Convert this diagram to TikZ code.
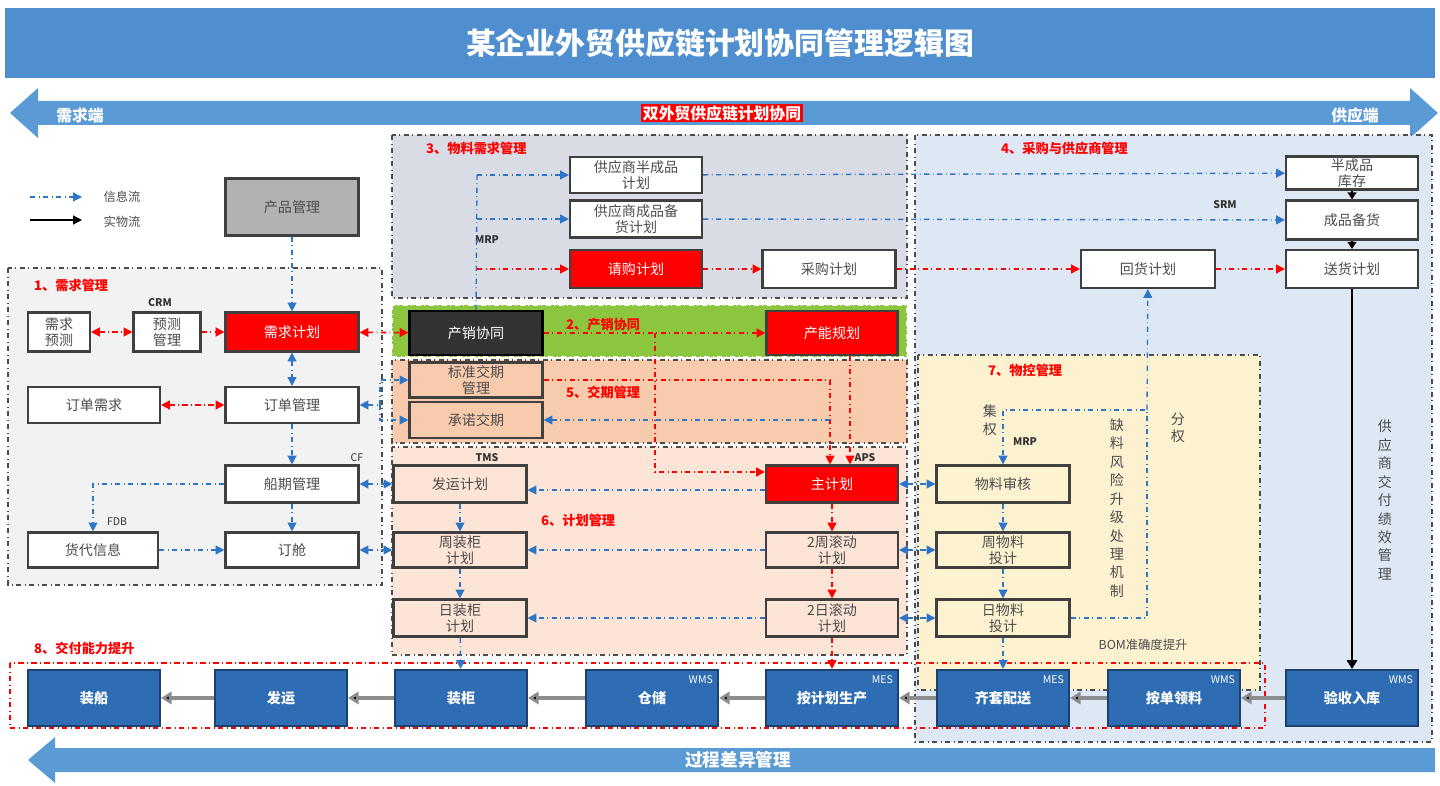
\documentclass[tikz,border=0pt]{standalone}
\usepackage{fontspec}
\setmainfont{Noto Sans CJK SC}
\usetikzlibrary{arrows.meta,calc}
\definecolor{hdr}{HTML}{4F8FCF}
\definecolor{flow}{HTML}{5B9BD5}
\definecolor{infob}{HTML}{2E75C8}
\definecolor{boxb}{HTML}{2E6DB4}
\definecolor{rgA}{HTML}{F2F2F2}
\definecolor{rgB}{HTML}{D9DCE4}
\definecolor{rgC}{HTML}{8CC63F}
\definecolor{rgD}{HTML}{F8CBAD}
\definecolor{rgE}{HTML}{FCE4D6}
\definecolor{rgF}{HTML}{DDE8F4}
\definecolor{rgG}{HTML}{FDF2D0}
\tikzset{
  box/.style={draw=black!75,line width=1.2pt,fill=white,text=black!70,font=\fontsize{8}{9}\selectfont,align=center,inner sep=0pt},
  redbox/.style={box,fill=red,text=white},
  bbox/.style={box,fill=boxb,draw=boxb!60!black,text=white},
  region/.style={draw=black!70,dash dot,line width=0.8pt},
  info/.style={draw=infob,dash dot,line width=0.8pt,-{Triangle[length=5pt,width=5pt]}},
  rinfo/.style={draw=red,dash dot,line width=0.9pt,-{Triangle[length=5pt,width=5pt]}},
  phys/.style={draw=black!45,line width=2.5pt,-{Triangle[length=6pt,width=7pt,fill=black]}},
  sec/.style={text=red,font=\bfseries\fontsize{7.5}{8}\selectfont},
  tag/.style={font=\bfseries\fontsize{6}{6}\selectfont,text=black!80}
}
\begin{document}
\begin{tikzpicture}[x=0.02cm,y=-0.02cm]
\useasboundingbox (0,0) rectangle (1440,786);
% title and flows
\fill[hdr] (5,8) rectangle (1435,78);
\node[text=white,font=\bfseries\fontsize{17}{18}\selectfont] (title) at (720,43) {某企业外贸供应链计划协同管理逻辑图};
\fill[flow] (10,113) -- (38,88) -- (38,101) -- (1410,101) -- (1410,88) -- (1438,113) -- (1410,138) -- (1410,125) -- (38,125) -- (38,138) -- cycle;
\node[text=white,font=\bfseries\fontsize{9}{9}\selectfont] (dem) at (80,115) {需求端};
\node[text=white,font=\bfseries\fontsize{9}{9}\selectfont] (sup) at (1355,115) {供应端};
\node[fill=red,text=white,font=\bfseries\fontsize{9}{9}\selectfont,inner sep=1pt] (mid) at (722,113) {双外贸供应链计划协同};
\fill[flow] (28,760) -- (55,737) -- (55,748) -- (1435,748) -- (1435,772) -- (55,772) -- (55,783) -- cycle;
\node[text=white,font=\bfseries\fontsize{10}{10}\selectfont] (diff) at (738,760) {过程差异管理};
% regions
\filldraw[region,fill=rgA] (8,268) rectangle (382,585);
\filldraw[region,fill=rgF] (915,135) rectangle (1432,742);
\filldraw[region,fill=rgB] (392,135) rectangle (907,298);
\filldraw[region,fill=rgC,draw=white] (392,305) rectangle (907,357);
\filldraw[region,fill=rgD] (392,360) rectangle (907,443);
\filldraw[region,fill=rgE] (392,447) rectangle (907,655);
\filldraw[region,fill=rgG] (918,355) rectangle (1260,690);
\draw[red,dash dot,line width=0.9pt] (10,663) rectangle (1265,728);
\node[sec,anchor=west] (s1) at (28,285) {1、需求管理};
\node[sec,anchor=west] (s2) at (560,325) {2、产销协同};
\node[sec,anchor=west] (s3) at (420,148) {3、物料需求管理};
\node[sec,anchor=west] (s4) at (995,148) {4、采购与供应商管理};
\node[sec,anchor=west] (s5) at (560,392) {5、交期管理};
\node[sec,anchor=west] (s6) at (535,520) {6、计划管理};
\node[sec,anchor=west] (s7) at (982,370) {7、物控管理};
\node[sec,anchor=west] (s8) at (28,648) {8、交付能力提升};
% legend
\draw[info] (30,197) -- (82,197);
\node[font=\fontsize{7}{7}\selectfont,text=black!70] (lg1) at (122,197) {信息流};
\draw[-{Triangle[length=5pt,width=5pt]},line width=0.8pt] (30,220) -- (82,220);
\node[font=\fontsize{7}{7}\selectfont,text=black!70] (lg2) at (122,222) {实物流};
% boxes
\node[box,fill=black!30,minimum width=2.66cm,minimum height=1.14cm] (prod) at (292,207) {产品管理};
\node[box,minimum width=1.24cm,minimum height=0.78cm] (dfc) at (59,332) {需求\\预测};
\node[box,minimum width=1.34cm,minimum height=0.78cm] (fcm) at (167,332) {预测\\管理};
\node[redbox,minimum width=2.66cm,minimum height=0.78cm] (dpl) at (292,332) {需求计划};
\node[box,minimum width=2.64cm,minimum height=0.72cm] (odm) at (94,405) {订单需求};
\node[box,minimum width=2.66cm,minimum height=0.72cm] (ord) at (292,405) {订单管理};
\node[box,minimum width=2.66cm,minimum height=0.74cm] (ship) at (292,484) {船期管理};
\node[box,minimum width=2.6cm,minimum height=0.7cm] (fwd) at (93,550) {货代信息};
\node[box,minimum width=2.66cm,minimum height=0.7cm] (book) at (292,550) {订舱};
\node[box,minimum width=2.64cm,minimum height=0.72cm] (ssp) at (636,175) {供应商半成品\\计划};
\node[box,minimum width=2.64cm,minimum height=0.74cm] (sfp) at (636,219) {供应商成品备\\货计划};
\node[redbox,minimum width=2.64cm,minimum height=0.76cm] (req) at (636,269) {请购计划};
\node[box,minimum width=2.66cm,minimum height=0.76cm] (pur) at (829,269) {采购计划};
\node[box,minimum width=2.68cm,minimum height=0.76cm] (ret) at (1148,269) {回货计划};
\node[box,minimum width=2.64cm,minimum height=0.66cm] (sinv) at (1352,173) {半成品\\库存};
\node[box,minimum width=2.64cm,minimum height=0.78cm] (fst) at (1352,220) {成品备货};
\node[box,minimum width=2.64cm,minimum height=0.76cm] (dlv) at (1352,269) {送货计划};
\node[box,fill=black!80,draw=black,text=white,minimum width=2.66cm,minimum height=0.88cm] (sop) at (476,333) {产销协同};
\node[redbox,minimum width=2.62cm,minimum height=0.88cm] (cap) at (832,333) {产能规划};
\node[box,fill=rgD,minimum width=2.66cm,minimum height=0.7cm] (std) at (476,380) {标准交期\\管理};
\node[box,fill=rgD,minimum width=2.66cm,minimum height=0.72cm] (prm) at (476,420) {承诺交期};
\node[box,fill=rgE,minimum width=2.66cm,minimum height=0.74cm] (spl) at (460,484) {发运计划};
\node[redbox,minimum width=2.64cm,minimum height=0.74cm] (mps) at (832,484) {主计划};
\node[box,fill=rgE,minimum width=2.66cm,minimum height=0.7cm] (wkc) at (460,550) {周装柜\\计划};
\node[box,fill=rgE,minimum width=2.64cm,minimum height=0.7cm] (wkr) at (832,550) {2周滚动\\计划};
\node[box,fill=rgE,minimum width=2.66cm,minimum height=0.74cm] (dyc) at (460,618) {日装柜\\计划};
\node[box,fill=rgE,minimum width=2.64cm,minimum height=0.74cm] (dyr) at (832,618) {2日滚动\\计划};
\node[box,fill=rgG,minimum width=2.66cm,minimum height=0.74cm] (mck) at (1003,484) {物料审核};
\node[box,fill=rgG,minimum width=2.66cm,minimum height=0.7cm] (wmt) at (1003,550) {周物料\\投计};
\node[box,fill=rgG,minimum width=2.66cm,minimum height=0.74cm] (dmt) at (1003,618) {日物料\\投计};
% bottom chain
\foreach \nm/\cx/\txt/\tg in {ldg/94/装船/, snd/281/发运/, cnt/461/装柜/, wh/652/仓储/WMS, prd/832/按计划生产/MES, kit/1003/齐套配送/MES, pick/1174/按单领料/WMS, rcv/1352/验收入库/WMS}{
  \node[bbox,font=\bfseries\fontsize{8}{9}\selectfont,minimum width=2.64cm,minimum height=1.12cm] (\nm) at (\cx,698) {\txt};
  \node[text=white,font=\fontsize{6}{6}\selectfont,anchor=north east] (\nm t) at (\nm.north east) {\tg};
}
\foreach \a/\b in {rcv/pick,pick/kit,kit/prd,prd/wh,wh/cnt,cnt/snd,snd/ldg}
  \draw[phys] (\a) -- (\b);
% tags
\node[tag] (tcrm) at (160,303) {CRM};
\node[tag] (tmrp) at (487,240) {MRP};
\node[tag] (ttms) at (487,458) {TMS};
\node[tag] (taps) at (865,458) {APS};
\node[tag,font=\fontsize{6}{6}\selectfont] (tcf) at (357,458) {CF};
\node[tag,font=\fontsize{6}{6}\selectfont] (tfdb) at (117,522) {FDB};
\node[tag] (tsrm) at (1225,205) {SRM};
\node[tag] (tmrp2) at (1025,442) {MRP};
\node[font=\fontsize{7}{8}\selectfont,text=black!70] (tbom) at (1143,645) {BOM准确度提升};
\node[font=\fontsize{8}{10}\selectfont,text=black!70,align=center] (cen) at (990,420) {集\\权};
\node[font=\fontsize{8}{10}\selectfont,text=black!70,align=center] (dec) at (1178,428) {分\\权};
\node[font=\fontsize{8}{10.5}\selectfont,text=black!70,align=center] (risk) at (1117,508) {缺\\料\\风\\险\\升\\级\\处\\理\\机\\制};
\node[font=\fontsize{8}{10.5}\selectfont,text=black!70,align=center] (kpi) at (1385,500) {供\\应\\商\\交\\付\\绩\\效\\管\\理};
% demand side
\draw[info] (prod) -- (dpl);
\draw[info,{Triangle[length=5pt,width=5pt]}-{Triangle[length=5pt,width=5pt]}] (dpl) -- (ord);
\draw[info] (ord) -- (ship);
\draw[info] (ship) -- (book);
\draw[info] (ship.west) -| (fwd.north);
\draw[info] (fwd) -- (book);
\draw[info,{Triangle[length=5pt,width=5pt]}-{Triangle[length=5pt,width=5pt]}] (ship) -- (spl);
\draw[info,{Triangle[length=5pt,width=5pt]}-{Triangle[length=5pt,width=5pt]}] (book) -- (wkc);
\coordinate (oj) at (380,405);
\draw[info,{Triangle[length=5pt,width=5pt]}-] (ord) -- (oj);
\draw[info] (oj) |- (std.west);
\draw[info] (oj) |- (prm.west);
\draw[rinfo,{Triangle[length=5pt,width=5pt]}-{Triangle[length=5pt,width=5pt]}] (dfc) -- (fcm);
\draw[rinfo] (fcm) -- (dpl);
\draw[rinfo,{Triangle[length=5pt,width=5pt]}-{Triangle[length=5pt,width=5pt]}] (odm) -- (ord);
\draw[rinfo,{Triangle[length=5pt,width=5pt]}-{Triangle[length=5pt,width=5pt]}] (dpl) -- (sop);
\draw[rinfo] (sop) -- (cap);
% material demand
\coordinate (mj) at (477,175);
\draw[info,-] (sop.north) -- (mj);
\draw[info] (mj) -- (ssp);
\draw[info] (477,219) -- (sfp);
\draw[rinfo] (477,269) -- (req);
\draw[info] (ssp) -- (sinv);
\draw[info] (sfp) -- (fst);
\draw[rinfo] (req) -- (pur);
\draw[rinfo] (pur) -- (ret);
\draw[rinfo] (ret) -- (dlv);
\draw[-{Triangle[length=4pt,width=5pt]},line width=0.8pt] (sinv) -- (fst);
\draw[-{Triangle[length=4pt,width=5pt]},line width=0.8pt] (fst) -- (dlv);
\draw[-{Triangle[length=5pt,width=6pt]},line width=0.8pt] (dlv) -- (rcv);
% plan management
\coordinate (pj) at (655,333);
\draw[rinfo] (pj) |- (655,472) -- (mps.west |- 0,472);
\draw[rinfo] (cap.south -| 850,0) -- (mps.north -| 850,0);
\draw[rinfo,-] (std.east) -- (830,380);
\draw[rinfo] (830,380) -- (mps.north -| 830,0);
\draw[info] (830,420) -- (prm);
\draw[info] (mps.west |- 0,490) -- (spl.east |- 0,490);
\draw[info] (wkr) -- (wkc);
\draw[info] (dyr) -- (dyc);
\draw[info] (spl) -- (wkc);
\draw[info] (wkc) -- (dyc);
\draw[info] (dyc) -- (cnt);
\draw[rinfo] (mps) -- (wkr);
\draw[rinfo] (wkr) -- (dyr);
\draw[rinfo] (dyr) -- (prd);
\draw[info,{Triangle[length=5pt,width=5pt]}-{Triangle[length=5pt,width=5pt]}] (mps) -- (mck);
\draw[info,{Triangle[length=5pt,width=5pt]}-{Triangle[length=5pt,width=5pt]}] (wkr) -- (wmt);
\draw[info,{Triangle[length=5pt,width=5pt]}-{Triangle[length=5pt,width=5pt]}] (dyr) -- (dmt);
% material control
\draw[info] (mck) -- (wmt);
\draw[info] (wmt) -- (dmt);
\draw[info] (dmt) -- (kit);
\draw[info] (dmt.east) -| (1147,410) -| (mck.north);
\draw[info] (1147,410) -- (ret);
\end{tikzpicture}
\end{document}
